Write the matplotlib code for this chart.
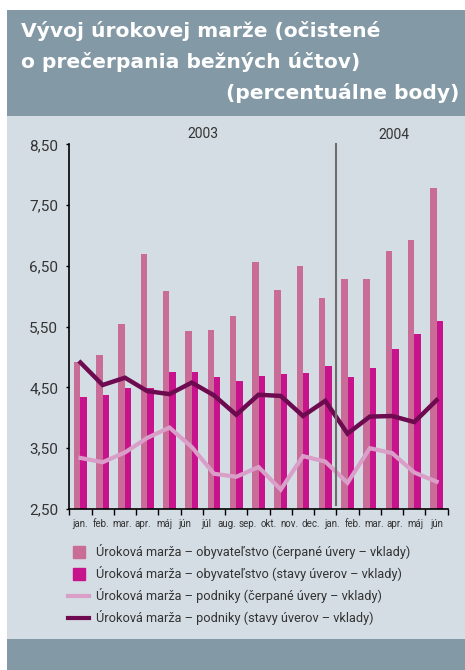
import numpy as np
import matplotlib
matplotlib.use("Agg")
import matplotlib.pyplot as plt
from matplotlib.patches import Rectangle
from matplotlib.lines import Line2D

# ---------------- data ----------------
month_labels = ["jan.", "feb.", "mar.", "apr.", "máj", "jún", "júl", "aug.", "sep.",
                "okt.", "nov.", "dec.", "jan.", "feb.", "mar.", "apr.", "máj", "jún"]
years = ["2003", "2004"]

households_drawn = [4.92, 5.03, 5.54, 6.70, 6.08, 5.43, 5.44, 5.67, 6.56,
                    6.10, 6.50, 5.97, 6.28, 6.28, 6.74, 6.93, 7.78]
households_stock = [4.34, 4.37, 4.49, 4.49, 4.75, 4.75, 4.67, 4.60, 4.69,
                    4.72, 4.74, 4.85, 4.67, 4.82, 5.13, 5.38, 5.59]
corporates_drawn = [3.34, 3.27, 3.43, 3.67, 3.84, 3.52, 3.08, 3.03, 3.19,
                    2.82, 3.37, 3.28, 2.93, 3.50, 3.42, 3.10, 2.95]
corporates_stock = [4.91, 4.54, 4.66, 4.44, 4.39, 4.58, 4.37, 4.05, 4.38,
                    4.36, 4.03, 4.28, 3.74, 4.02, 4.03, 3.93, 4.29]

ytick_values = [2.5, 3.5, 4.5, 5.5, 6.5, 7.5, 8.5]
ytick_labels = ["2,50", "3,50", "4,50", "5,50", "6,50", "7,50", "8,50"]

series_names = [
    "Úroková marža – obyvateľstvo (čerpané úvery – vklady)",
    "Úroková marža – obyvateľstvo (stavy úverov – vklady)",
    "Úroková marža – podniky (čerpané úvery – vklady)",
    "Úroková marža – podniky (stavy úverov – vklady)",
]
title_lines = ["Vývoj úrokovej marže (očistené", "o prečerpania bežných účtov)",
               "(percentuálne body)"]

# ---------------- style ----------------
C_PINK = "#C96C98"
C_MAG = "#C8148C"
C_LIGHT = "#DA9FC9"
C_DARK = "#6E0A50"
C_HEAD = "#8399A6"
C_PANEL = "#D5DDE4"
C_TEXT = "#333333"

W, H = 465, 670
fig = plt.figure(figsize=(W / 100, H / 100), dpi=100)
fig.patch.set_facecolor("white")

def fy(py):
    return 1 - py / H

# background panels
for (y0, y1, c) in [(116.5, 9.5, C_HEAD), (639, 116.5, C_PANEL), (H, 639, C_HEAD)]:
    fig.patches.append(Rectangle((7 / W, fy(y0)), 1 - 7 / W, fy(y1) - fy(y0),
                                 transform=fig.transFigure, facecolor=c,
                                 edgecolor="none", zorder=-10))

# title
tfont = dict(family=["DejaVu Sans"], weight="bold", color="white", fontsize=14.6)
fig.text(21 / W, fy(31), title_lines[0], ha="left", va="center", **tfont)
fig.text(21 / W, fy(62), title_lines[1], ha="left", va="center", **tfont)
fig.text(459 / W, fy(93), title_lines[2], ha="right", va="center", **tfont)

# axes
ax = fig.add_axes([69.3 / W, fy(509), (447.7 - 69.3) / W, fy(144.3) - fy(509)])
ax.set_zorder(2)
ax.set_facecolor("none")
n = len(households_drawn)
x = np.arange(n)
bw = 0.29
ax.bar(x - bw / 2, households_drawn, width=bw, color=C_PINK, zorder=2)
ax.bar(x + bw / 2, households_stock, width=bw, color=C_MAG, zorder=2)
ax.plot(x, corporates_drawn, color=C_LIGHT, lw=3.0, zorder=3, solid_joinstyle="miter")
ax.plot(x, corporates_stock, color=C_DARK, lw=3.2, zorder=4, solid_joinstyle="miter")

ax.set_xlim(-0.5, n - 0.5)
ax.set_ylim(2.5, 8.5)
ax.set_yticks(ytick_values)
ax.set_yticklabels(ytick_labels)
ax.set_xticks(np.arange(-0.5, n, 1.0))
ax.set_xticklabels([])
ax.tick_params(axis="y", direction="out", length=2, width=1, colors="black",
               labelcolor=C_TEXT, labelsize=11, pad=6)
ax.tick_params(axis="x", direction="out", length=4, width=1, colors="black")
for lab in ax.get_yticklabels():
    lab.set_family(["Roboto", "DejaVu Sans"])
for s in ["top", "right"]:
    ax.spines[s].set_visible(False)
for s in ["left", "bottom"]:
    ax.spines[s].set_color("black")
    ax.spines[s].set_linewidth(1.2)

# year separator
ax.plot([11.5, 11.5], [2.56, 8.5], color="#6E6E6E", lw=1.5, zorder=5, clip_on=False)

# month labels spread evenly across the data range
mfont = dict(family=["Liberation Sans Narrow", "Roboto", "DejaVu Sans"], fontsize=7.0,
             color=C_TEXT)
for xp, lab in zip(np.linspace(0, n - 1, len(month_labels)), month_labels):
    ax.text(xp, -0.04, lab, transform=ax.get_xaxis_transform(), ha="center", va="center", **mfont)

# year labels
yfont = dict(family=["Roboto", "DejaVu Sans"], fontsize=10, color=C_TEXT)
ax.text(5.5, 1.028, years[0], transform=ax.get_xaxis_transform(), ha="center", va="center", **yfont)
ax.text(14.1, 1.025, years[1], transform=ax.get_xaxis_transform(), ha="center", va="center", **yfont)

# legend
handles = [
    Line2D([], [], marker="s", ms=8.5, ls="none", color=C_PINK),
    Line2D([], [], marker="s", ms=8.5, ls="none", color=C_MAG),
    Line2D([], [], color=C_LIGHT, lw=3),
    Line2D([], [], color=C_DARK, lw=3),
]
leg = fig.legend(handles, series_names, loc="upper left",
                 bbox_to_anchor=(68 / W, fy(544)), frameon=False,
                 prop=dict(family=["Roboto", "DejaVu Sans"], size=9.2),
                 handlelength=1.65, handletextpad=0.55, labelspacing=0.55,
                 borderaxespad=0, borderpad=0)
leg.set_zorder(3)
for t in leg.get_texts():
    t.set_color(C_TEXT)

fig.savefig("out.png", dpi=100)
